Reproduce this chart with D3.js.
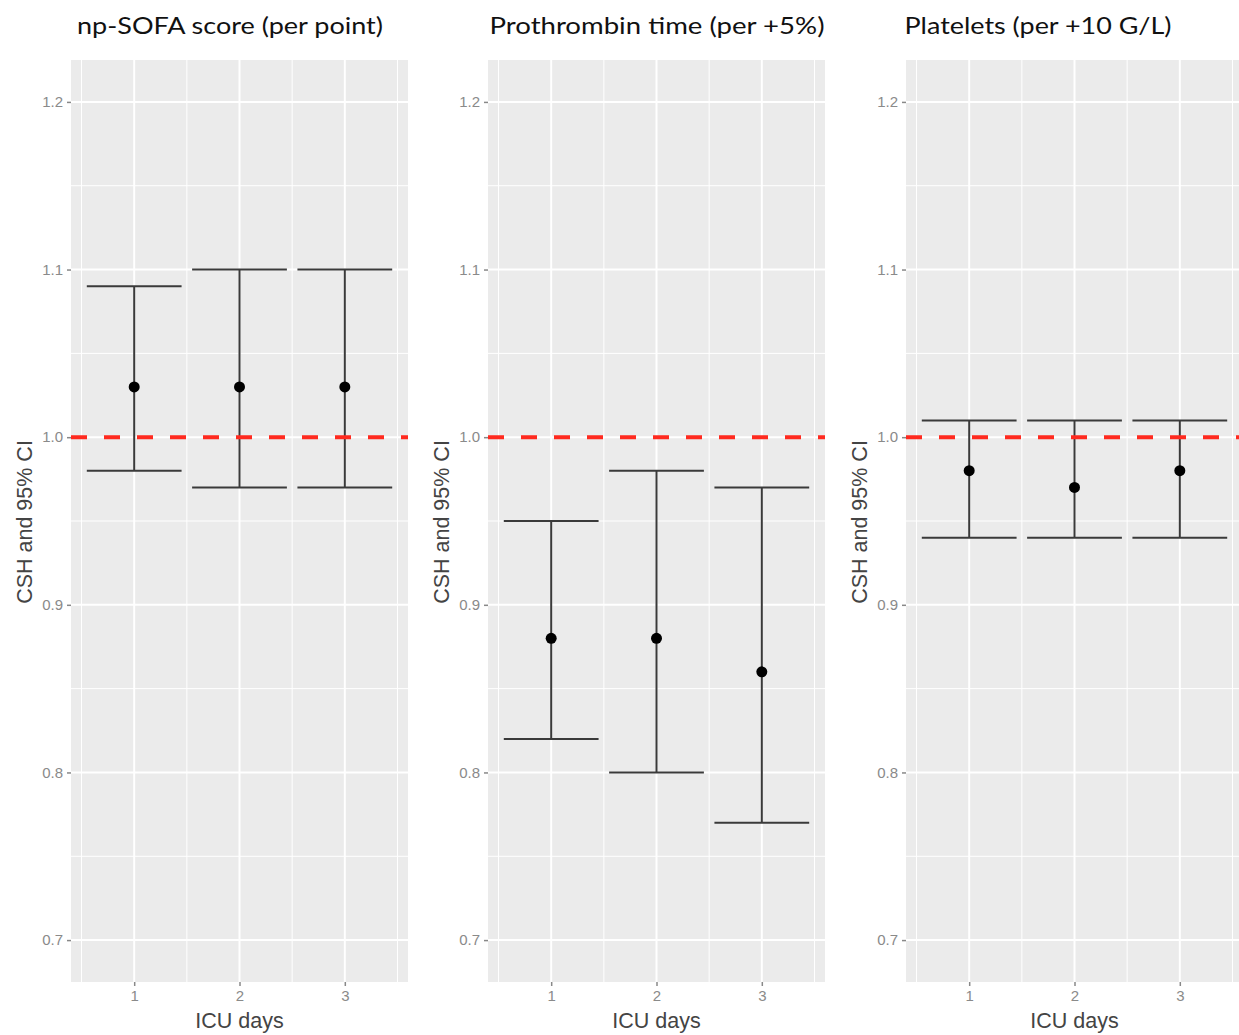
<!DOCTYPE html>
<html><head><meta charset="utf-8">
<script src="https://cdn.jsdelivr.net/npm/d3@7"></script>
<style>body{margin:0;background:#fff;} svg{display:block;}</style>
</head><body>
<script>
const panelTitles = ["np-SOFA score (per point)", "Prothrombin time (per +5%)", "Platelets (per +10 G/L)"];
const days = [1, 2, 3];
const estimates = [[1.03, 1.03, 1.03], [0.88, 0.88, 0.86], [0.98, 0.97, 0.98]];
const lowerCI = [[0.98, 0.97, 0.97], [0.82, 0.80, 0.77], [0.94, 0.94, 0.94]];
const upperCI = [[1.09, 1.10, 1.10], [0.95, 0.98, 0.97], [1.01, 1.01, 1.01]];
const yTicks = [0.7, 0.8, 0.9, 1.0, 1.1, 1.2];
const yMinor = [0.75, 0.85, 0.95, 1.05, 1.15];
const xMinor = [0.5, 1.5, 2.5, 3.5];
const refLine = 1.0;

const W = 1239, H = 1035;
const svg = d3.select("body").append("svg").attr("width", W).attr("height", H);

const panelLefts = [71, 488, 906];
const panelW = 337;
const plotTop = 60, plotBottom = 982;
const titleCenters = [230, 657, 1038];
const titleWidths = [306, 335, 267];

const y = d3.scaleLinear().domain([0.675, 1.225]).range([plotBottom, plotTop]);
const sans = "Liberation Sans, Arial, sans-serif";

panelTitles.forEach((title, p) => {
  const x0 = panelLefts[p];
  const x = d3.scaleLinear().domain([0.4, 3.6]).range([x0, x0 + panelW]);
  const g = svg.append("g");
  const clipId = "clip" + p;
  svg.append("clipPath").attr("id", clipId).append("rect")
    .attr("x", x0).attr("y", plotTop).attr("width", panelW).attr("height", plotBottom - plotTop);
  const pg = g.append("g").attr("clip-path", `url(#${clipId})`);
  pg.append("rect").attr("x", x0).attr("y", plotTop).attr("width", panelW).attr("height", plotBottom - plotTop).attr("fill", "#EBEBEB");
  // minor grid
  pg.selectAll(".ymin").data(yMinor).join("line")
    .attr("x1", x0).attr("x2", x0 + panelW).attr("y1", d => y(d)).attr("y2", d => y(d))
    .attr("stroke", "#fff").attr("stroke-width", 1);
  pg.selectAll(".xmin").data(xMinor).join("line")
    .attr("y1", plotTop).attr("y2", plotBottom).attr("x1", d => x(d)).attr("x2", d => x(d))
    .attr("stroke", "#fff").attr("stroke-width", 1);
  // major grid
  pg.selectAll(".ymaj").data(yTicks).join("line")
    .attr("x1", x0).attr("x2", x0 + panelW).attr("y1", d => y(d)).attr("y2", d => y(d))
    .attr("stroke", "#fff").attr("stroke-width", 2);
  pg.selectAll(".xmaj").data(days).join("line")
    .attr("y1", plotTop).attr("y2", plotBottom).attr("x1", d => x(d)).attr("x2", d => x(d))
    .attr("stroke", "#fff").attr("stroke-width", 2);
  // error bars
  const data = days.map((d, i) => ({day: d, est: estimates[p][i], lo: lowerCI[p][i], hi: upperCI[p][i]}));
  const ew = 0.45;
  pg.selectAll(".ev").data(data).join("line")
    .attr("x1", d => x(d.day)).attr("x2", d => x(d.day)).attr("y1", d => y(d.lo)).attr("y2", d => y(d.hi))
    .attr("stroke", "#3a3a3a").attr("stroke-width", 2);
  pg.selectAll(".eh").data(data).join("line")
    .attr("x1", d => x(d.day - ew)).attr("x2", d => x(d.day + ew)).attr("y1", d => y(d.hi)).attr("y2", d => y(d.hi))
    .attr("stroke", "#3a3a3a").attr("stroke-width", 2);
  pg.selectAll(".el").data(data).join("line")
    .attr("x1", d => x(d.day - ew)).attr("x2", d => x(d.day + ew)).attr("y1", d => y(d.lo)).attr("y2", d => y(d.lo))
    .attr("stroke", "#3a3a3a").attr("stroke-width", 2);
  // reference line
  pg.append("line").attr("x1", x0).attr("x2", x0 + panelW).attr("y1", y(refLine)).attr("y2", y(refLine))
    .attr("stroke", "#FF2A1F").attr("stroke-width", 4).attr("stroke-dasharray", "16,17");
  // points
  pg.selectAll(".pt").data(data).join("circle")
    .attr("cx", d => x(d.day)).attr("cy", d => y(d.est)).attr("r", 5.5).attr("fill", "#000");

  // y axis
  const yAxis = d3.axisLeft(y).tickValues(yTicks).tickSize(4).tickPadding(4).tickFormat(d3.format(".1f"));
  const ya = g.append("g").attr("transform", `translate(${x0},0)`).call(yAxis);
  ya.select(".domain").remove();
  ya.selectAll("line").attr("stroke", "#888").attr("stroke-width", 1.5);
  ya.selectAll("text").attr("fill", "#8a8a8a").attr("font-family", sans).attr("font-size", 15);

  // x axis
  const xAxis = d3.axisBottom(x).tickValues(days).tickSize(4).tickPadding(4).tickFormat(d3.format("d"));
  const xa = g.append("g").attr("transform", `translate(0,${plotBottom})`).call(xAxis);
  xa.select(".domain").remove();
  xa.selectAll("line").attr("stroke", "#888").attr("stroke-width", 1.5);
  xa.selectAll("text").attr("fill", "#8a8a8a").attr("font-family", sans).attr("font-size", 15);

  // axis titles
  g.append("text").attr("x", x(2)).attr("y", 1028).attr("text-anchor", "middle")
    .attr("font-family", sans).attr("font-size", 21.5).attr("fill", "#444")
    .text("ICU days");
  g.append("text").attr("transform", `translate(${x0 - 39},${(y(0.9) + y(1.0)) / 2 + 1}) rotate(-90)`)
    .attr("text-anchor", "middle")
    .attr("font-family", sans).attr("font-size", 21.5).attr("fill", "#444")
    .text("CSH and 95% CI");

  // panel title
  g.append("text").attr("x", titleCenters[p]).attr("y", 34).attr("text-anchor", "middle")
    .attr("font-family", "Lato, 'Open Sans', sans-serif").attr("font-size", 24).attr("fill", "#111")
    .attr("textLength", titleWidths[p]).attr("lengthAdjust", "spacingAndGlyphs")
    .text(title);
});
</script>
</body></html>
